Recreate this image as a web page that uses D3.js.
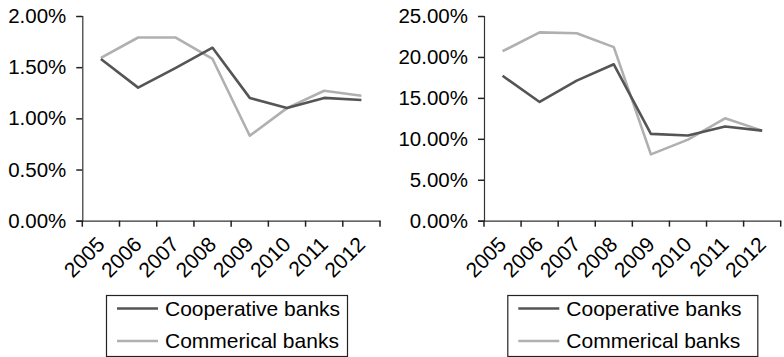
<!DOCTYPE html>
<html>
<head>
<meta charset="utf-8">
<script src="https://cdn.jsdelivr.net/npm/d3@7"></script>
<style>
  html, body { margin: 0; padding: 0; background: #fff; }
  svg { display: block; font-family: "Liberation Sans", Arial, sans-serif; }
</style>
</head>
<body>
<svg id="chart" width="784" height="357"></svg>
<script>
// Years on the category axis
const years = ["2005", "2006", "2007", "2008", "2009", "2010", "2011", "2012"];

// Left panel (share, %)
const leftCooperative = [1.58, 1.30, 1.49, 1.69, 1.20, 1.10, 1.20, 1.18];
const leftCommercial  = [1.59, 1.79, 1.79, 1.58, 0.83, 1.10, 1.27, 1.22];
const leftTicks = [0, 0.5, 1.0, 1.5, 2.0];

// Right panel (share, %)
const rightCooperative = [17.7, 14.5, 17.1, 19.1, 10.6, 10.4, 11.5, 11.0];
const rightCommercial  = [20.7, 23.0, 22.9, 21.2, 8.1, 9.9, 12.5, 11.0];
const rightTicks = [0, 5, 10, 15, 20, 25];

const seriesNames = ["Cooperative banks", "Commerical banks"];
const seriesColors = ["#555555", "#b0b0b0"];

const svg = d3.select("#chart");

function panel(opts) {
  const g = svg.append("g");
  const x = d3.scaleBand().domain(years).range([opts.x0, opts.x1]).padding(0);
  const y = d3.scaleLinear().domain([0, opts.max]).range([220.7, 16]);
  const fmt = v => v.toFixed(2) + "%";

  // y axis
  const yAxis = g.append("g")
    .attr("transform", `translate(${opts.x0},0)`)
    .call(d3.axisLeft(y).tickValues(opts.ticks).tickFormat(fmt).tickSize(6).tickPadding(10));
  yAxis.select(".domain").attr("stroke", "#333").attr("stroke-width", 1.2);
  yAxis.selectAll(".tick line").attr("stroke", "#222").attr("stroke-width", 1.5);
  yAxis.selectAll("text").attr("font-size", 20.5).attr("fill", "#000")
    .attr("font-family", "Liberation Sans, Arial, sans-serif");

  // x axis: labels at category centres, ticks on category boundaries
  const xAxis = g.append("g")
    .attr("transform", `translate(0,${y(0)})`)
    .call(d3.axisBottom(x).tickSize(0).tickPadding(0));
  xAxis.select(".domain").attr("stroke", "#333").attr("stroke-width", 1.2);
  xAxis.selectAll(".tick text")
    .attr("font-size", 21).attr("fill", "#000")
    .attr("font-family", "Liberation Sans, Arial, sans-serif")
    .attr("text-anchor", "end")
    .attr("dy", null)
    .attr("transform", "translate(5,25) rotate(-45)");
  const bounds = years.map(yr => x(yr)).concat([x(years[years.length - 1]) + x.bandwidth()]);
  xAxis.selectAll(".bound")
    .data(bounds).enter().append("line")
    .attr("class", "bound")
    .attr("x1", d => d).attr("x2", d => d)
    .attr("y1", 0).attr("y2", 6)
    .attr("stroke", "#222").attr("stroke-width", 1.5);

  // series lines
  const line = d3.line()
    .x((d, i) => x(years[i]) + x.bandwidth() / 2)
    .y(d => y(d));
  [opts.commercial, opts.cooperative].forEach((vals, k) => {
    const idx = k === 0 ? 1 : 0;
    g.append("path")
      .datum(vals)
      .attr("fill", "none")
      .attr("stroke", seriesColors[idx])
      .attr("stroke-width", 2.6)
      .attr("stroke-linejoin", "round")
      .attr("d", line);
  });

  // legend
  const lg = g.append("g").attr("transform", `translate(${opts.lx},295)`);
  lg.append("rect")
    .attr("x", 0.5).attr("y", 0.5)
    .attr("width", opts.lw).attr("height", 61)
    .attr("fill", "#fff").attr("stroke", "#222").attr("stroke-width", 1.2);
  seriesNames.forEach((name, i) => {
    const cy = 13.5 + i * 32.5;
    lg.append("line")
      .attr("x1", 11).attr("x2", 52)
      .attr("y1", cy).attr("y2", cy)
      .attr("stroke", seriesColors[i]).attr("stroke-width", 2.6);
    lg.append("text")
      .attr("x", 59).attr("y", cy)
      .attr("dy", "0.35em")
      .attr("font-size", 21).attr("fill", "#000")
      .text(name);
  });
}

panel({
  x0: 82.3, x1: 380, max: 2.0, ticks: leftTicks,
  cooperative: leftCooperative, commercial: leftCommercial,
  lx: 106, lw: 241
});
panel({
  x0: 484, x1: 780.7, max: 25, ticks: rightTicks,
  cooperative: rightCooperative, commercial: rightCommercial,
  lx: 507.3, lw: 250
});
</script>
</body>
</html>
